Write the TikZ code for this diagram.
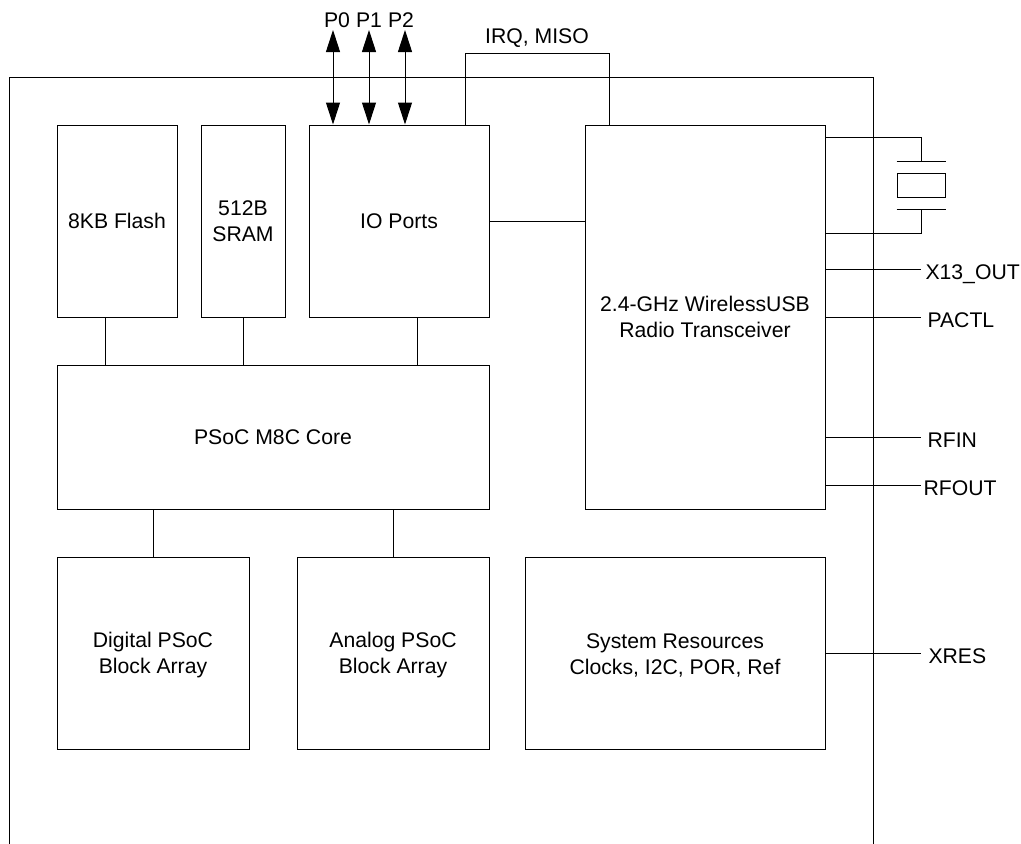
\documentclass[tikz,border=0pt]{standalone}
\usepackage{fontspec}
\setmainfont{Liberation Sans}
\usetikzlibrary{arrows.meta}
\newcommand{\lowtext}{\rule{0pt}{19.5pt}}

\begin{document}
\begin{tikzpicture}[x=1pt,y=-1pt,line width=1pt]
		\tikzstyle{block} = [rectangle, draw, align=center, inner sep=0pt, font=\fontsize{21.2}{26}\selectfont]
		\tikzstyle{pin} = [anchor=west, inner sep=0pt, text height=15pt, text depth=0pt, font=\fontsize{21.2}{26}\selectfont]
		\tikzstyle{portlabel} = [inner sep=0pt, font=\fontsize{21.2}{26}\selectfont]
		\tikzstyle{both} = [{Triangle[length=22pt,width=14pt]}-{Triangle[length=22pt,width=14pt]}]
		
		\useasboundingbox (0,0) rectangle (1021,844);
		
		\coordinate (c1) at (9,844);
		\coordinate (c2) at (873,844);
		\coordinate (c3) at (9,77);
		\draw (c1) -- (c3) -| (c2);
		
		\node [block, minimum width=120, minimum height=192] (flash) at (117,221) {8KB Flash};
		\node [block, minimum width=84, minimum height=192] (sram) at (243,221) {512B\\SRAM};
		\node [block, minimum width=180, minimum height=192] (io) at (399,221) {IO Ports};
		\node [block, minimum width=240, minimum height=384] (radio) at (705,317) {2.4-GHz WirelessUSB\\Radio Transceiver};
		\node [block, minimum width=432, minimum height=144] (core) at (273,437) {PSoC M8C Core};
		\node [block, minimum width=192, minimum height=192] (digital) at (153,653) {\lowtext Digital PSoC\\Block Array};
		\node [block, minimum width=192, minimum height=192] (analog) at (393,653) {\lowtext Analog PSoC\\Block Array};
		\node [block, minimum width=300, minimum height=192] (system) at (675,653) {\lowtext System Resources\\Clocks, I2C, POR, Ref};
		
		\coordinate (a1) at (105,317);
		\coordinate (a2) at (417,317);
		\draw (a1) -- (a1 |- core.north);
		\draw (sram.south) -- (sram.south |- core.north);
		\draw (a2) -- (a2 |- core.north);
		\draw (digital.north) -- (digital.north |- core.south);
		\draw (analog.north) -- (analog.north |- core.south);
		\draw (io.east) -- (io.east -| radio.west);
		
		\node [portlabel] (p0) at (337,20) {P0};
		\node [portlabel] (p1) at (369,20) {P1};
		\node [portlabel] (p2) at (401,20) {P2};
		\coordinate (t0) at (333,30);
		\coordinate (t1) at (369,30);
		\coordinate (t2) at (405,30);
		\draw [both] (t0) -- (t0 |- io.north);
		\draw [both] (t1) -- (t1 |- io.north);
		\draw [both] (t2) -- (t2 |- io.north);
		
		\node [portlabel] (irq) at (537,38) {IRQ, MISO};
		\coordinate (b1) at (465,53);
		\coordinate (b2) at (609,53);
		\draw (b1 |- io.north) -- (b1) -- (b2) -- (b2 |- radio.north);
		
		\node [rectangle, draw, minimum width=48, minimum height=24, inner sep=0pt] (xtal) at (921,185) {};
		\coordinate (x1) at (921,161);
		\coordinate (x2) at (921,209);
		\coordinate (w1) at (825,137);
		\coordinate (w2) at (825,233);
		\draw (x1 -| xtal.west) -- (x1 -| xtal.east);
		\draw (x2 -| xtal.west) -- (x2 -| xtal.east);
		\draw (w1) -| (x1);
		\draw (w2) -| (x2);
		
		\node [pin] (xout) at (925,272) {X13\_OUT};
		\node [pin] (pactl) at (927,320) {PACTL};
		\node [pin] (rfin) at (927,440) {RFIN};
		\node [pin] (rfout) at (923,488) {RFOUT};
		\node [pin] (xres) at (928,656) {XRES};
		\coordinate (e1) at (921,269);
		\coordinate (e2) at (921,317);
		\coordinate (e3) at (921,437);
		\coordinate (e4) at (921,485);
		\coordinate (e5) at (921,653);
		\draw (e1 -| radio.east) -- (e1);
		\draw (e2 -| radio.east) -- (e2);
		\draw (e3 -| radio.east) -- (e3);
		\draw (e4 -| radio.east) -- (e4);
		\draw (e5 -| system.east) -- (e5);
		\end{tikzpicture}
\end{document}
